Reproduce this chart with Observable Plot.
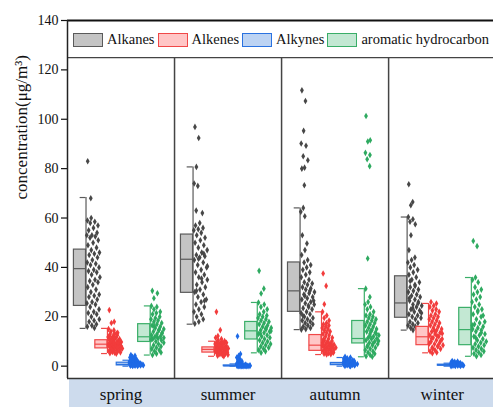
<!DOCTYPE html>
<html>
<head>
<meta charset="utf-8">
<script src="https://cdn.jsdelivr.net/npm/d3@7"></script>
<script src="https://cdn.jsdelivr.net/npm/@observablehq/plot@0.6"></script>
<style>
  html, body { margin: 0; padding: 0; background: #fff; }
  #wrap { position: relative; width: 493px; height: 407px; overflow: hidden; font-family: "Liberation Serif", "Times New Roman", serif; }
  #band { position: absolute; left: 69px; top: 379px; width: 430px; height: 28px; background: #cddbed; }
  #chart { position: absolute; left: 0; top: 0; }
  #legend { position: absolute; left: 73px; top: 31px; display: flex; align-items: center; font-family: "Liberation Serif", serif; font-size: 14.5px; color: #111; white-space: nowrap; }
  #legend .sw { display: inline-block; width: 28px; height: 12px; box-sizing: content-box; }
  #legend .lab { margin-left: 4px; margin-right: 3px; }
</style>
</head>
<body>
<div id="wrap">
  <div id="band"></div>
  <div id="chart"></div>
  <div id="legend"></div>
</div>
<script>
const seasons = ["spring", "summer", "autumn", "winter"];
const categories = ["Alkanes", "Alkenes", "Alkynes", "aromatic hydrocarbon"];
const fills   = ["#c4c4c4", "#ffc6c6", "#bcd3f3", "#c3e8d3"];
const strokes = ["#5a5a5a", "#f04848", "#2a72e0", "#3aae68"];
const dotColors = ["#474747", "#f23c3c", "#1e6ae6", "#2eaa60"];
const yTicks = [0, 20, 40, 60, 80, 100, 120, 140];

// box statistics [season][category]
const q1  = [[24.4, 7.2, 0.3, 9.8], [29.7, 5.5, 0.0, 10.8], [22.0, 6.2, 0.4, 9.2], [19.6, 8.5, 0.2, 8.5]];
const med = [[39.5, 8.9, 0.7, 11.9], [43.3, 6.8, 0.1, 14.3], [30.5, 8.5, 0.8, 11.2], [25.6, 11.9, 0.4, 14.8]];
const q3  = [[47.2, 10.5, 1.4, 17.0], [53.3, 7.6, 0.3, 17.9], [42.0, 12.6, 1.3, 18.3], [36.4, 15.9, 0.6, 23.6]];
const wLo = [[15.3, 5.1, 0.0, 4.5], [17.0, 4.0, 0.0, 5.4], [14.8, 4.7, 0.0, 3.8], [14.6, 5.4, 0.0, 4.0]];
const wHi = [[68.3, 15.3, 2.4, 24.4], [80.7, 10.1, 0.9, 25.8], [64.1, 22.0, 3.5, 31.4], [60.4, 25.4, 1.2, 35.9]];

// individual samples
const springAlkanes = [83, 68, 60, 59, 58.5, 58, 57, 56, 55, 54, 53, 53, 52.5, 52, 51, 50, 49, 48, 47, 46, 45.5, 45, 44, 43, 42, 41.5, 41, 40, 39, 38.5, 38, 37, 36, 35, 34.5, 34, 33, 32, 31, 30, 29, 28.5, 28, 27, 26, 25.5, 25, 24, 23, 22, 21.5, 21, 20, 19, 18.5, 18, 17, 16.5, 16, 15.5];
const springAlkenes = [22.7, 18, 17.5, 15, 14.5, 14, 13.5, 13, 12.8, 12.5, 12, 11.8, 11.5, 11.2, 11, 10.8, 10.5, 10.2, 10, 9.8, 9.6, 9.4, 9.2, 9, 8.8, 8.6, 8.4, 8.2, 8, 7.8, 7.6, 7.4, 7.2, 7, 6.8, 6.6, 6.4, 6.2, 6, 5.8, 5.6, 5.4, 5.2, 5, 9.5, 8.5, 7.5, 6.5, 10.5, 11.5, 12.2, 13.2];
const springAlkynes = [4.5, 4.2, 3.8, 3.5, 3.2, 3, 2.8, 2.6, 2.4, 2.2, 2, 1.9, 1.8, 1.7, 1.6, 1.5, 1.4, 1.3, 1.2, 1.1, 1, 0.95, 0.9, 0.85, 0.8, 0.75, 0.7, 0.65, 0.6, 0.55, 0.5, 0.45, 0.4, 0.35, 0.3, 0.25, 0.2, 0.15, 0.1, 0.05];
const springAromatic = [30.5, 29.5, 27.5, 24.4, 24, 23, 22, 21.5, 21, 20, 19.5, 19, 18.5, 18, 17.5, 17, 16.5, 16, 15.5, 15, 14.5, 14, 13.5, 13, 12.5, 12, 11.8, 11.5, 11.2, 11, 10.5, 10, 9.5, 9, 8.5, 8, 7.5, 7, 6.5, 6, 5.5, 5, 4.5, 13.2, 12.2, 10.8, 14.8, 16.2];

const summerAlkanes = [96.9, 92.4, 80.7, 74, 73, 63, 62, 58, 57, 56, 55.5, 55, 54, 53, 52, 51, 50, 49, 48, 47, 46, 45, 44.5, 44, 43, 42, 41, 40, 39, 38, 37, 36, 35, 34, 33, 32, 31, 30, 29, 28, 27, 26, 25, 24, 23, 22, 21, 20, 19, 18, 17.2, 45.5, 43.5, 40.5, 35.5, 30.5, 26.5];
const summerAlkenes = [22, 14.6, 12.2, 11.5, 11, 10.5, 10.2, 10, 9.8, 9.5, 9.2, 9, 8.8, 8.5, 8.2, 8, 7.8, 7.6, 7.4, 7.2, 7, 6.8, 6.6, 6.4, 6.2, 6, 5.8, 5.6, 5.4, 5.2, 5, 4.8, 4.6, 4.4, 4.2, 4, 7.5, 6.5, 5.5, 8.5, 9.5];
const summerAlkynes = [12.1, 4.9, 4.2, 3.5, 3, 2.5, 2, 1.8, 1.5, 1.2, 1, 0.9, 0.8, 0.7, 0.6, 0.5, 0.45, 0.4, 0.35, 0.3, 0.25, 0.2, 0.15, 0.1, 0.08, 0.05, 0.03, 0.02, 0.01, 0, 0, 0, 0.1, 0.2, 0.3];
const summerAromatic = [38.6, 31.4, 29.4, 25.8, 25, 24, 23, 22, 21, 20.5, 20, 19.5, 19, 18.5, 18, 17.5, 17, 16.5, 16, 15.5, 15, 14.5, 14, 13.5, 13, 12.5, 12, 11.5, 11, 10.5, 10, 9.5, 9, 8.5, 8, 7.5, 7, 6.5, 6, 5.4, 14.2, 15.2, 13.2];

const autumnAlkanes = [111.7, 107.4, 95.3, 90.2, 89.3, 85, 83.4, 80.4, 80, 73.3, 64.1, 62.5, 60.7, 53, 49.7, 47, 45, 43, 42, 41, 40, 39, 38, 37, 36, 35, 34, 33.5, 33, 32, 31.5, 31, 30, 29.5, 29, 28, 27.5, 27, 26, 25.5, 25, 24, 23.5, 23, 22, 21.5, 21, 20, 19.5, 19, 18.5, 18, 17.5, 17, 16.5, 16, 15.5, 15, 14.8, 30.5, 28.5, 26.5, 24.5, 20.5];
const autumnAlkenes = [37.5, 32.5, 25.1, 22, 20.5, 19.5, 18.5, 17.5, 17, 16.5, 16, 15.5, 15, 14.5, 14, 13.5, 13, 12.5, 12, 11.5, 11, 10.5, 10.2, 10, 9.5, 9.2, 9, 8.8, 8.5, 8.2, 8, 7.8, 7.5, 7.2, 7, 6.8, 6.5, 6.2, 6, 5.8, 5.5, 5.2, 5, 4.8, 4.7, 8.3, 7.6, 6.6, 5.6, 9.6, 10.8];
const autumnAlkynes = [3.8, 3.5, 3.2, 3, 2.8, 2.6, 2.4, 2.2, 2, 1.9, 1.8, 1.6, 1.5, 1.4, 1.3, 1.2, 1.1, 1, 0.9, 0.85, 0.8, 0.75, 0.7, 0.6, 0.5, 0.45, 0.4, 0.3, 0.2, 0.1, 0, 1.7, 2.1, 2.5, 0.65, 0.95];
const autumnAromatic = [101.3, 91.5, 91, 86.4, 85.5, 83.8, 81, 43.6, 31.4, 28, 26, 25, 24, 23, 22, 21, 20.5, 20, 19.5, 19, 18.5, 18, 17.5, 17, 16.5, 16, 15.5, 15, 14.5, 14, 13.5, 13, 12.5, 12, 11.5, 11.2, 11, 10.5, 10, 9.5, 9, 8.5, 8, 7.5, 7, 6.5, 6, 5.5, 5, 4.5, 4, 3.8, 12.2, 10.2, 9.2, 8.2, 13.2, 14.2];

const winterAlkanes = [73.7, 66.5, 65.2, 60.4, 59.5, 58.5, 57.5, 53, 47, 44, 43, 42, 41, 40, 39, 38, 37, 36, 35, 34, 33, 32, 31, 30.5, 30, 29, 28.5, 28, 27, 26.5, 26, 25, 24.5, 24, 23, 22.5, 22, 21, 20.5, 20, 19.5, 19, 18, 17.5, 17, 16.5, 16, 15.5, 15, 14.6, 27.5, 25.5, 23.5, 21.5, 32.5, 34.5];
const winterAlkenes = [26, 25.4, 24.5, 24, 23, 22.5, 22, 21, 20.5, 20, 19.5, 19, 18.5, 18, 17.5, 17, 16.5, 16, 15.5, 15, 14.5, 14, 13.5, 13, 12.5, 12, 11.5, 11, 10.5, 10, 9.5, 9, 8.5, 8, 7.5, 7, 6.5, 6, 5.5, 5.2, 13.2, 12.2, 11.2, 10.2, 14.2, 9.2, 8.2, 7.2];
const winterAlkynes = [2.1, 1.9, 1.8, 1.6, 1.5, 1.4, 1.3, 1.2, 1.1, 1, 0.9, 0.8, 0.7, 0.6, 0.5, 0.45, 0.4, 0.35, 0.3, 0.25, 0.2, 0.15, 0.1, 0.05, 0, 0.55, 0.65, 0.75];
const winterAromatic = [50.7, 48.6, 35.9, 35, 34, 32, 31, 30, 29, 28, 27, 26, 25, 24, 23, 22, 21, 20, 19, 18, 17.5, 17, 16, 15.5, 15, 14.5, 14, 13, 12.5, 12, 11, 10.5, 10, 9.5, 9, 8.5, 8, 7.5, 7, 6.5, 6, 5.5, 5, 4.5, 4, 16.5, 13.5, 11.5, 20.5, 22.5];

const samples = [
  [springAlkanes, springAlkenes, springAlkynes, springAromatic],
  [summerAlkanes, summerAlkenes, summerAlkynes, summerAromatic],
  [autumnAlkanes, autumnAlkenes, autumnAlkynes, autumnAromatic],
  [winterAlkanes, winterAlkenes, winterAlkynes, winterAromatic]
];

// layout (in panel units; each season panel = 1 unit)
const boxStart = 0.06, boxStep = 0.2, boxW = 0.113, capW = 0.055, spreadW = 0.135;

const boxes = [];
const points = [];
seasons.forEach((s, si) => {
  categories.forEach((c, ci) => {
    const x1 = si + boxStart + ci * boxStep;
    const x2 = x1 + boxW;
    boxes.push({si, ci, x1, x2, q1: q1[si][ci], med: med[si][ci], q3: q3[si][ci], lo: wLo[si][ci], hi: wHi[si][ci]});
    const vals = samples[si][ci];
    const h = Math.max(0.35, (q3[si][ci] - q1[si][ci]) * 0.3);
    const counts = vals.map(v => vals.filter(w => Math.abs(w - v) <= h).length);
    const mx = d3.max(counts);
    vals.forEach((v, i) => {
      const u = (i * 0.618034 + 0.21) % 1;
      const f = 0.15 + 0.85 * Math.sqrt(counts[i] / mx);
      points.push({ci, x: x2 + 0.006 + u * spreadW * f, y: v});
    });
  });
});

const marks = [];
categories.forEach((c, ci) => {
  const b = boxes.filter(d => d.ci === ci);
  const p = points.filter(d => d.ci === ci);
  marks.push(
    Plot.rect(b, {x1: "x1", x2: "x2", y1: "q1", y2: "q3", fill: fills[ci], stroke: strokes[ci], strokeWidth: 1.2}),
    Plot.ruleY(b, {x1: "x1", x2: "x2", y: "med", stroke: strokes[ci], strokeWidth: 1.2}),
    Plot.ruleX(b, {x: "x2", y1: "lo", y2: "hi", stroke: strokes[ci], strokeWidth: 1.2}),
    Plot.ruleY(b, {x1: d => d.x2 - capW, x2: "x2", y: "hi", stroke: strokes[ci], strokeWidth: 1.2}),
    Plot.ruleY(b, {x1: d => d.x2 - capW, x2: "x2", y: "lo", stroke: strokes[ci], strokeWidth: 1.2}),
    Plot.dot(p, {x: "x", y: "y", symbol: "diamond", r: 2.0, fill: dotColors[ci], stroke: "none"})
  );
});

const chart = Plot.plot({
  width: 493,
  height: 407,
  marginLeft: 67,
  marginRight: 0,
  marginTop: 20,
  marginBottom: 29,
  style: {background: "transparent", fontFamily: "'Liberation Serif', serif", color: "#111"},
  x: {domain: [0, 3.98], axis: null},
  y: {domain: [-5, 140]},
  marks: [
    Plot.axisY({ticks: yTicks, tickSize: 6, fontSize: 14, label: null, tickPadding: 3, stroke: "#111", strokeWidth: 1.2}),
    Plot.text(["concentration(μg/m³)"], {frameAnchor: "left", dx: -46, rotate: -90, fontSize: 17, fill: "#111"}),
    ...marks,
    Plot.ruleX([1, 2, 3], {y1: -5, y2: 125, stroke: "#444", strokeWidth: 1.5}),
    Plot.ruleY([125], {stroke: "#444", strokeWidth: 1.2}),
    Plot.ruleY([140], {stroke: "#111", strokeWidth: 2}),
    Plot.ruleY([-5], {stroke: "#333", strokeWidth: 1.5}),
    Plot.ruleX([0], {y1: -5, y2: 140, stroke: "#222", strokeWidth: 1.5}),
    Plot.text(seasons, {x: (d, i) => i + 0.5, y: -5, dy: 16, fontSize: 17, fill: "#111", lineAnchor: "middle"})
  ]
});
document.getElementById("chart").appendChild(chart);

const legend = document.getElementById("legend");
categories.forEach((c, ci) => {
  const sw = document.createElement("span");
  sw.className = "sw";
  sw.style.background = fills[ci];
  sw.style.border = `1.5px solid ${strokes[ci]}`;
  const lab = document.createElement("span");
  lab.className = "lab";
  lab.textContent = c;
  legend.appendChild(sw);
  legend.appendChild(lab);
});
</script>
</body>
</html>
